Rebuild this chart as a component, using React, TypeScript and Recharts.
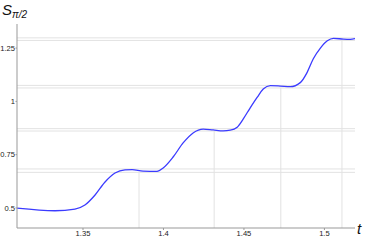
import React from 'react'
import { LineChart, Line, XAxis, YAxis, ReferenceLine } from 'recharts'

// values
const tValues = [
  1.309, 1.3326, 1.345, 1.3512, 1.3575, 1.3637, 1.3699, 1.3761, 1.3805,
  1.3873, 1.396, 1.3998, 1.406, 1.4122, 1.4184, 1.4247, 1.4309, 1.4371,
  1.4415, 1.4458, 1.4496, 1.4539, 1.4583, 1.462, 1.4664, 1.4726, 1.4788,
  1.485, 1.4892, 1.4931, 1.4975, 1.5018, 1.5056, 1.5118, 1.5161, 1.519,
]
const sValues = [
  0.499, 0.487, 0.495, 0.514, 0.561, 0.622, 0.664, 0.679, 0.68,
  0.673, 0.672, 0.6875, 0.739, 0.805, 0.852, 0.87, 0.866, 0.862,
  0.865, 0.879, 0.918, 0.97, 1.02, 1.058, 1.074, 1.072, 1.069,
  1.088, 1.135, 1.2, 1.25, 1.284, 1.296, 1.292, 1.291, 1.294,
]

const xTicks = [1.35, 1.4, 1.45, 1.5]
const yTicks = [0.5, 0.75, 1, 1.25]
const yTickLabels = ['0.5', '0.75', '1', '1.25']

// pairs of horizontal grid lines (plateau max / min)
const hGrid = [0.667, 0.683, 0.861, 0.872, 1.063, 1.075, 1.286, 1.298]
// vertical grid lines: position and height they reach
const vGridT = [1.3848, 1.4315, 1.4729, 1.5109]
const vGridTop = [0.667, 0.861, 1.063, 1.286]

const xDomain: [number, number] = [1.309, 1.519]
const yDomain: [number, number] = [0.406, 1.363]

const data = tValues.map((t, i) => ({ t, s: sValues[i] }))

const tickStyle = { fill: '#222', fontSize: 7.6, fontFamily: 'Liberation Sans, Arial, sans-serif' }

export default function App() {
  return (
    <div style={{ position: 'fixed', left: 0, top: 0, width: 365, height: 240, background: '#fff' }}>
      <LineChart
        width={365}
        height={240}
        data={data}
        margin={{ top: 24, right: 10, bottom: 0, left: 0 }}
      >
        {hGrid.map((y) => (
          <ReferenceLine key={'h' + y} y={y} stroke="#e2e2e2" strokeWidth={1} />
        ))}
        {vGridT.map((x, i) => (
          <ReferenceLine
            key={'v' + x}
            segment={[
              { x, y: yDomain[0] },
              { x, y: vGridTop[i] },
            ]}
            stroke="#e2e2e2"
            strokeWidth={1}
          />
        ))}
        <XAxis
          dataKey="t"
          type="number"
          domain={xDomain}
          ticks={xTicks}
          allowDataOverflow
          height={12}
          tick={tickStyle}
          tickSize={2}
          tickMargin={1}
          stroke="#999"
          tickFormatter={(v) => String(v)}
        />
        <YAxis
          type="number"
          domain={yDomain}
          ticks={yTicks}
          allowDataOverflow
          width={17}
          tick={tickStyle}
          tickSize={1.5}
          tickMargin={0.5}
          stroke="#999"
          tickFormatter={(v) => yTickLabels[yTicks.indexOf(v)] ?? String(v)}
        />
        <Line
          type="monotone"
          dataKey="s"
          stroke="#3b3bff"
          strokeWidth={1.3}
          dot={false}
          isAnimationActive={false}
        />
      </LineChart>
      <div
        style={{
          position: 'absolute',
          left: 2,
          top: 0,
          fontFamily: 'Liberation Sans, Arial, sans-serif',
          fontStyle: 'italic',
          fontSize: 15,
          color: '#111',
          lineHeight: '20px',
        }}
      >
        S<span style={{ fontSize: 10, position: 'relative', top: 3 }}>π/2</span>
      </div>
      <div
        style={{
          position: 'absolute',
          left: 357,
          top: 219,
          fontFamily: 'Liberation Sans, Arial, sans-serif',
          fontStyle: 'italic',
          fontSize: 15,
          color: '#111',
          lineHeight: '20px',
        }}
      >
        t
      </div>
    </div>
  )
}
